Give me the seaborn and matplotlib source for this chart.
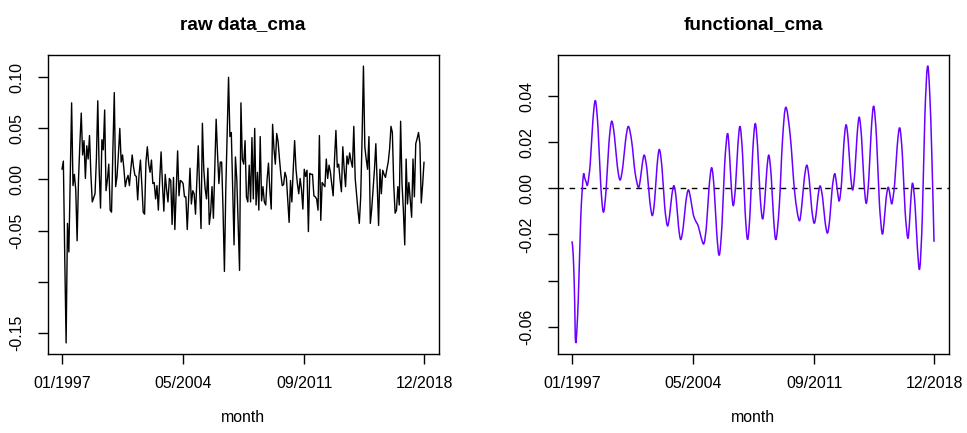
import numpy as np
import pandas as pd
import matplotlib
matplotlib.use("Agg")
import matplotlib.pyplot as plt
from matplotlib.path import Path
from matplotlib.patches import PathPatch
import seaborn as sns

# ---------------- data ----------------
raw_values = [
    0.010, 0.018, -0.075, -0.160, -0.043, -0.071, 0.000, 0.075, -0.006, 0.005,
    -0.010, -0.060, 0.000, 0.035, 0.065, 0.024, 0.038, 0.001, 0.033, 0.020,
    0.043, 0.005, -0.022, -0.018, -0.014, 0.020, 0.077, 0.010, -0.028, 0.039,
    0.029, 0.068, -0.011, 0.000, 0.015, -0.030, -0.032, 0.030, 0.085, -0.007,
    0.003, 0.025, 0.050, 0.017, 0.024, 0.010, -0.007, 0.000, 0.004, -0.006,
    0.010, 0.024, 0.012, 0.004, 0.003, -0.020, 0.005, 0.019, -0.005, -0.032,
    -0.034, 0.017, 0.032, 0.015, 0.007, 0.019, -0.004, -0.003, -0.019, -0.006,
    -0.030, 0.000, 0.027, -0.005, -0.031, 0.005, -0.010, -0.022, 0.001, -0.001,
    -0.044, 0.002, -0.049, -0.010, 0.028, -0.016, -0.001, -0.002, -0.004, -0.017,
    -0.017, -0.049, -0.020, 0.011, -0.024, -0.011, -0.014, -0.034, 0.000, 0.033,
    -0.010, -0.048, 0.055, 0.010, -0.009, -0.019, 0.011, -0.044, -0.032, -0.007,
    -0.038, 0.010, 0.059, 0.025, -0.004, 0.017, 0.017, -0.030, -0.090, -0.010,
    0.045, 0.100, 0.042, 0.046, -0.010, -0.064, 0.022, 0.000, -0.045, -0.089,
    0.075, 0.020, 0.015, 0.038, -0.017, -0.022, 0.014, -0.022, 0.041, -0.019,
    0.050, -0.025, 0.007, -0.030, 0.042, -0.021, -0.007, -0.022, -0.025, 0.000,
    0.016, -0.010, -0.029, 0.054, 0.030, 0.015, 0.045, 0.037, 0.020, 0.005,
    -0.006, -0.005, 0.007, 0.002, -0.020, -0.042, -0.001, -0.022, 0.010, 0.038,
    0.010, -0.004, -0.014, 0.001, -0.010, -0.029, 0.010, 0.003, 0.009, -0.051,
    0.006, 0.005, 0.005, -0.016, -0.017, -0.019, -0.030, 0.043, -0.040, -0.003,
    -0.005, -0.007, 0.020, 0.001, 0.014, 0.007, -0.005, -0.016, 0.020, 0.048,
    0.012, 0.015, 0.000, -0.012, 0.032, 0.010, -0.007, 0.023, 0.015, 0.026,
    0.018, 0.012, 0.052, 0.001, -0.015, -0.030, -0.043, -0.017, 0.040, 0.111,
    0.032, 0.020, 0.010, 0.042, -0.043, -0.029, -0.010, 0.010, 0.035, -0.005,
    -0.045, 0.010, -0.014, 0.009, 0.005, 0.002, 0.010, 0.017, 0.030, 0.052,
    0.046, -0.005, -0.033, -0.030, -0.007, -0.025, 0.057, -0.004, -0.030, -0.064,
    0.020, -0.024, -0.003, -0.020, -0.037, 0.020, -0.017, 0.035, 0.040, 0.046,
    0.035, -0.023, -0.005, 0.017,
]
raw_month = list(range(1, len(raw_values) + 1))

func_month = [
    1, 1.9, 2.8, 3.7, 5.53, 7.37, 9.2, 10.27, 11.33, 12.4, 14.27, 16.13, 18,
    19.93, 21.87, 23.8, 25.8, 27.8, 29.8, 31.83, 33.87, 35.9, 37.93, 39.97, 42,
    44.4, 46.8, 49.2, 50.67, 52.13, 53.6, 55.53, 57.47, 59.4, 61.1, 62.8, 64.5,
    66.43, 68.37, 70.3, 71.9, 73.5, 75.1, 76.73, 78.37, 80, 81.83, 83.67, 85.5,
    87.2, 89.0, 90.4, 92.8, 94.9, 96.9, 98.77, 100.63, 102.5, 104.33, 106.17,
    108, 109.97, 111.93, 113.9, 115.33, 116.77, 118.2, 119.83, 121.47, 123.1,
    124.93, 126.77, 128.6, 130.43, 132.27, 134.1, 135.87, 137.63, 139.4, 140.93,
    142.47, 144, 145.73, 147.47, 149.2, 151.57, 153.93, 156.3, 159.53, 162.77,
    166, 167.87, 169.73, 171.6, 173.37, 175.13, 176.9, 178.37, 179.83, 181.3,
    183.07, 184.83, 186.6, 188.3, 190.0, 191.7, 192.9, 194.1, 195.3, 196.9,
    198.5, 200.1, 201.7, 203.3, 204.9, 206.5, 208.1, 209.7, 211.4, 213.1, 214.8,
    216.6, 218.4, 220.2, 222.23, 224.27, 226.3, 227.73, 229.17, 230.6, 231.57,
    232.53, 233.5, 235.37, 237.23, 239.1, 241.03, 242.97, 244.9, 246.1, 247.3,
    248.5, 250.2, 251.9, 253.6, 255.47, 257.33, 259.2, 260.8, 262.4, 264,
]
func_value = [
    -0.023, -0.0289, -0.045, -0.067, -0.0489, -0.0128, 0.0053, 0.0044, 0.0026,
    0.0017, 0.0108, 0.0289, 0.038, 0.0259, 0.0018, -0.0103, -0.0005, 0.0192,
    0.029, 0.0227, 0.0100, 0.0036, 0.0094, 0.0210, 0.0268, 0.0202, 0.0070,
    0.0004, 0.0039, 0.0108, 0.0143, 0.0078, -0.0053, -0.0118, -0.0047, 0.0097,
    0.0168, 0.0086, -0.0080, -0.0162, -0.0119, -0.0032, 0.0011, -0.0047,
    -0.0164, -0.0222, -0.0168, -0.0061, -0.0007, -0.0045, -0.0110, -0.0136,
    -0.0165, -0.0215, -0.0239, -0.0157, 0.0007, 0.0089, -0.0006, -0.0195,
    -0.029, -0.0158, 0.0105, 0.0237, 0.0159, 0.0003, -0.0075, 0.0011, 0.0182,
    0.0268, 0.0146, -0.0100, -0.0222, -0.0097, 0.0155, 0.028, 0.0177, -0.0030,
    -0.0133, -0.0064, 0.0074, 0.0143, 0.0052, -0.0131, -0.0222, -0.0079, 0.0208,
    0.0351, 0.0229, -0.0017, -0.0139, -0.0079, 0.0040, 0.010, 0.0037, -0.0088,
    -0.0151, -0.0111, -0.0030, 0.001, -0.0041, -0.0143, -0.0194, -0.0130,
    -0.0002, 0.0062, 0.0033, -0.0024, -0.0053, 0.0029, 0.0193, 0.0275, 0.0205,
    0.0064, -0.0007, 0.0072, 0.0229, 0.0308, 0.0215, 0.0028, -0.0065, 0.0040,
    0.0251, 0.0356, 0.0218, -0.0058, -0.0196, -0.0146, -0.0046, 0.0004, -0.0013,
    -0.0048, -0.0065, 0.0017, 0.0180, 0.0262, 0.0143, -0.0096, -0.0215, -0.0156,
    -0.0037, 0.0022, -0.0071, -0.0256, -0.0348, -0.0130, 0.0308, 0.0526, 0.0424,
    0.0147, -0.0232,
]

xtick_months = [1, 89, 177, 264]
xtick_labels = ["01/1997", "05/2004", "09/2011", "12/2018"]
left_yticks = [0.10, 0.05, 0.00, -0.05, -0.10, -0.15]
left_ylabels = ["0.10", "0.05", "0.00", "-0.05", "", "-0.15"]
right_yticks = [0.04, 0.02, 0.00, -0.02, -0.04, -0.06]
right_ylabels = ["0.04", "0.02", "0.00", "-0.02", "", "-0.06"]
titles = ["raw data_cma", "functional_cma"]
xlabel = "month"

# ---------------- style ----------------
sns.set_style("white")
plt.rcParams["font.family"] = ["Liberation Sans", "DejaVu Sans"]
plt.rcParams["text.color"] = "black"
plt.rcParams["xtick.color"] = "black"
plt.rcParams["ytick.color"] = "black"
plt.rcParams["axes.labelcolor"] = "black"
plt.rcParams["axes.linewidth"] = 1.0
plt.rcParams["axes.edgecolor"] = "black"

W, H = 967, 433
fig = plt.figure(figsize=(W / 100, H / 100), dpi=100)
fig.patch.set_facecolor("white")

def px_axes(x0, x1, y0, y1):
    return fig.add_axes([x0 / W, 1 - y1 / H, (x1 - x0) / W, (y1 - y0) / H])

ax1 = px_axes(47.5, 438.5, 55, 354)
ax2 = px_axes(557.5, 948.5, 55, 354)

df_raw = pd.DataFrame({"month": raw_month, "value": raw_values})
df_fun = pd.DataFrame({"month": func_month, "value": func_value})

sns.lineplot(data=df_raw, x="month", y="value", ax=ax1, color="black",
             linewidth=1.0, estimator=None, sort=False)
sns.lineplot(data=df_fun, x="month", y="value", ax=ax2, color="#6A00FF",
             linewidth=1.1, estimator=None, sort=False)

# render the functional curve as a smooth (Catmull-Rom / Bezier) path
fline = ax2.get_lines()[-1]
P = np.column_stack([fline.get_xdata(), fline.get_ydata()]).astype(float)
verts = [P[0]]
codes = [Path.MOVETO]
n = len(P)
for i in range(n - 1):
    p0 = P[i - 1] if i > 0 else P[i]
    p1, p2 = P[i], P[i + 1]
    p3 = P[i + 2] if i + 2 < n else P[i + 1]
    verts += [p1 + (p2 - p0) / 6.0, p2 - (p3 - p1) / 6.0, p2]
    codes += [Path.CURVE4] * 3
ax2.add_patch(PathPatch(Path(verts, codes), facecolor="none",
                        edgecolor="#6A00FF", linewidth=1.1, zorder=3))
fline.set_visible(False)

ax2.axhline(0, color="black", linestyle=(0, (4, 4)), linewidth=1.0)

FS = 11.4
for ax, yt, yl, title in [(ax1, left_yticks, left_ylabels, titles[0]),
                          (ax2, right_yticks, right_ylabels, titles[1])]:
    ax.margins(x=0.04, y=0.04)
    ax.set_xticks(xtick_months)
    ax.set_xticklabels(xtick_labels, fontsize=FS)
    ax.set_yticks(yt)
    ax.set_yticklabels(yl, fontsize=FS, rotation=90, va="center")
    ax.tick_params(axis="both", direction="out", length=7, width=1.0,
                   color="black", labelcolor="black", bottom=True, left=True)
    ax.tick_params(axis="x", pad=9)
    ax.tick_params(axis="y", pad=10)
    ax.set_xlabel("")
    ax.set_ylabel("")
    for s in ax.spines.values():
        s.set_visible(True)
        s.set_color("black")
        s.set_linewidth(1.0)
    ax.set_title(title, fontsize=13.7, fontweight="bold", pad=19, color="black")
    ax.text(0.5, -(418 - 354) / 299, xlabel, transform=ax.transAxes,
            ha="center", va="center", fontsize=FS, color="black")

fig.savefig("out.png", dpi=100, facecolor="white")
